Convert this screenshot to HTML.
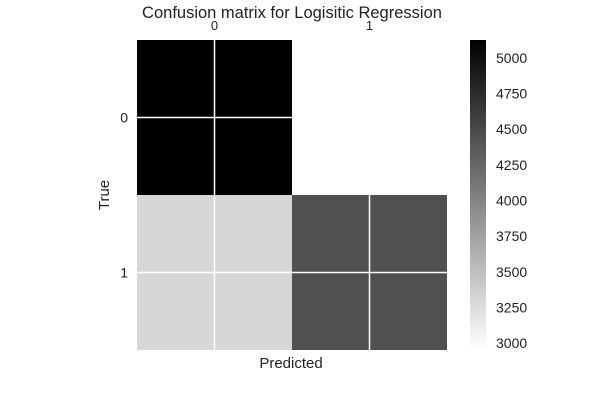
<!DOCTYPE html>
<html><head><meta charset="utf-8"><style>
body{margin:0;background:#fff;width:600px;height:400px;overflow:hidden;font-family:"Liberation Sans",sans-serif}
</style></head><body>
<svg id="chart" width="600" height="400" style="font-family:'Liberation Sans',sans-serif">
<defs><linearGradient id="cb" x1="0" y1="1" x2="0" y2="0"><stop offset="0" stop-color="#fff"/><stop offset="1" stop-color="#000"/></linearGradient></defs>
<text x="292" y="18" font-size="16.5" text-anchor="middle" fill="#222">Confusion matrix for Logisitic Regression</text>
<g id="cells"></g>
<g id="grid"></g>
<g id="labels"></g>
<text x="291" y="368" font-size="15" text-anchor="middle" fill="#222">Predicted</text>
<text x="109" y="195" font-size="15" text-anchor="middle" fill="#222" transform="rotate(-90 109 195)">True</text>
<rect x="470" y="40" width="16" height="310" fill="url(#cb)"/>
<g id="cbticks"></g>
</svg>
<script>
const classes=["0","1"];
const values=[[5126,2951],[3301,4443]];
const cbTicks=[3000,3250,3500,3750,4000,4250,4500,4750,5000];
const vmin=2951,vmax=5126;
const ns="http://www.w3.org/2000/svg";
const x0=137,y0=40,cw=155,ch=155;
const cbY=v=>350-(v-vmin)/(vmax-vmin)*310;
function gray(v){const g=Math.round(255*(1-(v-vmin)/(vmax-vmin)));return `rgb(${g},${g},${g})`;}
const cells=document.getElementById('cells'),grid=document.getElementById('grid'),labels=document.getElementById('labels'),cbt=document.getElementById('cbticks');
values.forEach((row,i)=>row.forEach((v,j)=>{
 const r=document.createElementNS(ns,'rect');
 r.setAttribute('x',x0+j*cw);r.setAttribute('y',y0+i*ch);r.setAttribute('width',cw);r.setAttribute('height',ch);r.setAttribute('fill',gray(v));
 
 
 cells.appendChild(r);
}));
classes.forEach((c,k)=>{
 const cx=x0+cw*(k+0.5),cy=y0+ch*(k+0.5);
 const lv=document.createElementNS(ns,'line');
 lv.setAttribute('x1',cx);lv.setAttribute('x2',cx);lv.setAttribute('y1',y0);lv.setAttribute('y2',y0+ch*classes.length);lv.setAttribute('stroke','#fff');lv.setAttribute('stroke-width','1.5');
 
 
 grid.appendChild(lv);
 const lh=document.createElementNS(ns,'line');
 lh.setAttribute('y1',cy);lh.setAttribute('y2',cy);lh.setAttribute('x1',x0);lh.setAttribute('x2',x0+cw*classes.length);lh.setAttribute('stroke','#fff');lh.setAttribute('stroke-width','1.5');
 
 
 grid.appendChild(lh);
 const tx=document.createElementNS(ns,'text');
 tx.setAttribute('x',cx);tx.setAttribute('y',30);tx.setAttribute('font-size','13');tx.setAttribute('text-anchor','middle');tx.setAttribute('fill','#222');tx.textContent=c;
 
 
 labels.appendChild(tx);
 const ty=document.createElementNS(ns,'text');
 ty.setAttribute('x',128);ty.setAttribute('y',cy+5);ty.setAttribute('font-size','14');ty.setAttribute('text-anchor','end');ty.setAttribute('fill','#222');ty.textContent=c;
 
 
 labels.appendChild(ty);
});
cbTicks.forEach(t=>{
 const tt=document.createElementNS(ns,'text');
 tt.setAttribute('x',496);tt.setAttribute('y',cbY(t)+5);tt.setAttribute('font-size','14');tt.setAttribute('fill','#222');tt.textContent=t;
 
 
 cbt.appendChild(tt);
});
</script>
</body></html>
